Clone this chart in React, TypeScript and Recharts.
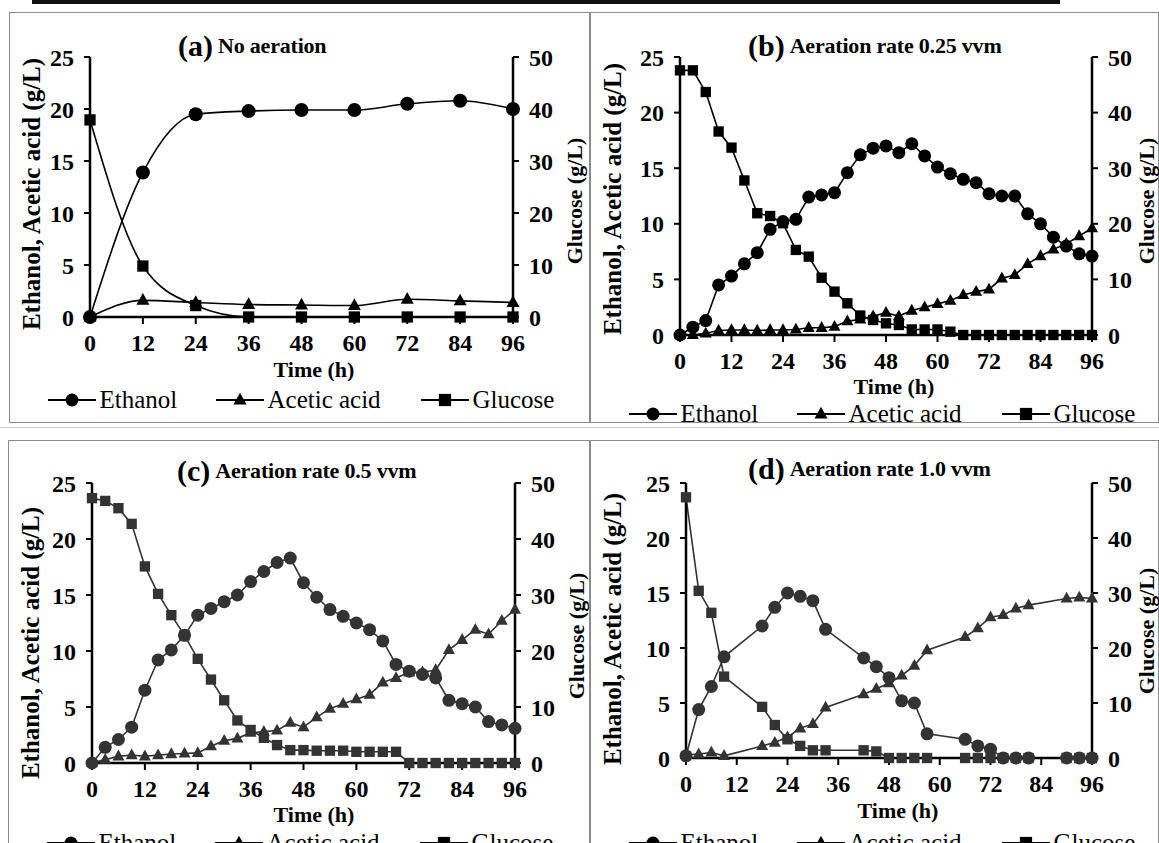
import React from 'react'
import { LineChart, Line, XAxis, YAxis } from 'recharts'

const FONT = '"Liberation Serif", "DejaVu Serif", serif'

// (a) no aeration, sampled every 12 h
const TIME_A = [0, 12, 24, 36, 48, 60, 72, 84, 96]
const ETHANOL_A = [0, 13.9, 19.5, 19.8, 19.9, 19.9, 20.5, 20.8, 20.0]
const ACETIC_A = [0, 1.6, 1.4, 1.2, 1.15, 1.1, 1.7, 1.55, 1.4]
const GLUCOSE_A = [37.9, 9.8, 2.2, 0, 0, 0, 0, 0, 0]

// (b) 0.25 vvm, every 3 h
const TIME_B = [0, 3, 6, 9, 12, 15, 18, 21, 24, 27, 30, 33, 36, 39, 42, 45, 48, 51, 54, 57, 60, 63, 66, 69, 72, 75, 78, 81, 84, 87, 90, 93, 96]
const ETHANOL_B = [0, 0.7, 1.3, 4.5, 5.3, 6.4, 7.4, 9.5, 10.2, 10.4, 12.4, 12.6, 12.8, 14.6, 16.2, 16.8, 17.0, 16.4, 17.2, 16.1, 15.1, 14.5, 14.0, 13.7, 12.7, 12.5, 12.5, 10.9, 10.0, 8.8, 8.0, 7.3, 7.1]
const ACETIC_B = [0, 0, 0.15, 0.4, 0.45, 0.45, 0.4, 0.45, 0.45, 0.5, 0.65, 0.65, 0.75, 1.25, 1.4, 1.7, 2.0, 1.7, 2.2, 2.5, 2.8, 3.1, 3.6, 3.9, 4.1, 5.1, 5.4, 6.4, 7.1, 7.7, 8.2, 8.9, 9.6]
const GLUCOSE_B = [47.6, 47.6, 43.7, 36.6, 33.7, 27.8, 21.9, 21.4, 20.1, 15.3, 14.1, 10.3, 7.8, 5.7, 3.5, 2.7, 2.1, 1.8, 1.0, 1.0, 1.0, 0.6, 0, 0, 0, 0, 0, 0, 0, 0, 0, 0, 0]

// (c) 0.5 vvm, every 3 h
const TIME_C = [0, 3, 6, 9, 12, 15, 18, 21, 24, 27, 30, 33, 36, 39, 42, 45, 48, 51, 54, 57, 60, 63, 66, 69, 72, 75, 78, 81, 84, 87, 90, 93, 96]
const ETHANOL_C = [0, 1.4, 2.1, 3.2, 6.5, 9.2, 10.1, 11.4, 13.2, 13.8, 14.4, 15.0, 16.2, 17.1, 17.9, 18.3, 16.1, 14.8, 13.7, 13.1, 12.5, 11.9, 10.9, 8.8, 8.2, 7.9, 7.6, 5.6, 5.3, 5.0, 3.7, 3.4, 3.1]
const ACETIC_C = [0, 0.3, 0.6, 0.7, 0.6, 0.7, 0.8, 0.85, 0.9, 1.5, 2.0, 2.2, 2.7, 2.8, 2.9, 3.6, 3.2, 4.1, 4.85, 5.3, 5.7, 6.1, 7.2, 7.6, 8.1, 8.1, 8.3, 10.1, 11.0, 11.9, 11.5, 12.7, 13.7]
const GLUCOSE_C = [47.3, 46.8, 45.5, 42.7, 35.1, 30.2, 26.4, 22.8, 18.6, 14.9, 11.2, 7.6, 5.9, 4.5, 3.2, 2.3, 2.3, 2.2, 2.2, 2.2, 2.0, 2.0, 2.0, 2.0, 0, 0, 0, 0, 0, 0, 0, 0, 0]

// (d) 1.0 vvm, irregular sampling
const TIME_D = [0, 3, 6, 9, 18, 21, 24, 27, 30, 33, 42, 45, 48, 51, 54, 57, 66, 69, 72, 75, 78, 81, 90, 93, 96]
const ETHANOL_D = [0.2, 4.4, 6.5, 9.2, 12.0, 13.7, 15.0, 14.7, 14.3, 11.7, 9.1, 8.3, 7.3, 5.2, 5.0, 2.2, 1.7, 1.1, 0.8, 0, 0, 0, 0, 0, 0]
const ACETIC_D = [0.3, 0.35, 0.5, 0.2, 1.1, 1.4, 1.9, 2.7, 3.1, 4.6, 5.8, 6.3, 6.8, 7.5, 8.4, 9.8, 11.0, 11.8, 12.8, 13.0, 13.6, 13.9, 14.5, 14.6, 14.5]
const GLUCOSE_D = [47.4, 30.4, 26.4, 14.8, 9.3, 6.0, 3.4, 2.2, 1.4, 1.4, 1.4, 1.2, 0, 0, 0, 0, 0, 0, 0, 0, 0, 0, 0, 0, 0]

const TIME_TICKS = [0, 12, 24, 36, 48, 60, 72, 84, 96]
const LEFT_TICKS = [0, 5, 10, 15, 20, 25]
const RIGHT_TICKS = [0, 10, 20, 30, 40, 50]

type Row = { t: number; eth: number; ace: number; glu: number }

function makeRows(time: number[], eth: number[], ace: number[], glu: number[]): Row[] {
  return time.map((t, i) => ({ t, eth: eth[i], ace: ace[i], glu: glu[i] }))
}

function marker(kind: string, cx: number, cy: number, s: number, color: string, key?: any) {
  if (kind === 'circle') return <circle key={key} cx={cx} cy={cy} r={s / 2} fill={color} />
  if (kind === 'square') return <rect key={key} x={cx - s * 0.47} y={cy - s * 0.47} width={s * 0.94} height={s * 0.94} fill={color} />
  const h = s * 0.9
  return (
    <polygon
      key={key}
      points={`${cx},${cy - h * 0.62} ${cx - s / 2},${cy + h * 0.38} ${cx + s / 2},${cy + h * 0.38}`}
      fill={color}
    />
  )
}

type Box = { x: number; y: number; w: number; h: number }
type Plot = { l: number; r: number; t: number; b: number }

interface PanelProps {
  box: Box
  plot: Plot
  tag: string
  title: string
  titleX: number
  titleY: number
  timeX: number
  timeY: number
  legendY: number
  leftTitle: { x: number; y: number }
  rightTitle: { x: number; y: number }
  data: Row[]
  smooth?: boolean
  color: string
  size: number
}

const LEGEND_ITEMS = [
  { kind: 'circle', label: 'Ethanol', x: 39 },
  { kind: 'triangle', label: 'Acetic acid', x: 207 },
  { kind: 'square', label: 'Glucose', x: 412 },
]

function Panel(p: PanelProps) {
  const YW = 40
  const XH = 40
  const margin = {
    left: p.plot.l - p.box.x - YW,
    right: p.box.x + p.box.w - p.plot.r - YW,
    top: p.plot.t - p.box.y,
    bottom: p.box.y + p.box.h - p.plot.b - XH,
  }
  const curve = p.smooth ? 'monotone' : 'linear'
  const tickStyle = { fill: '#000', fontSize: 24, fontWeight: 'bold' as const, fontFamily: FONT }
  const axisLine = { stroke: '#000', strokeWidth: 2.5 }
  const tickLine = { stroke: '#000', strokeWidth: 2 }

  return (
    <div
      style={{
        position: 'absolute', left: p.box.x, top: p.box.y, width: p.box.w, height: p.box.h,
        border: '1.5px solid #8c8c8c', boxSizing: 'border-box',
      }}
    >
      <div style={{ position: 'absolute', left: -1.5, top: -1.5 }}>
        <LineChart width={p.box.w} height={p.box.h} data={p.data} margin={margin}>
          <XAxis
            dataKey="t" type="number" domain={[0, 96]} ticks={TIME_TICKS} interval={0}
            axisLine={axisLine} tickLine={tickLine}
            tickSize={7} tickMargin={10} tick={tickStyle} height={XH}
          />
          <YAxis
            yAxisId="L" domain={[0, 25]} ticks={LEFT_TICKS} interval={0} width={YW}
            axisLine={axisLine} tickLine={tickLine}
            tickSize={6} tickMargin={10} tick={tickStyle}
          />
          <YAxis
            yAxisId="R" orientation="right" domain={[0, 50]} ticks={RIGHT_TICKS} interval={0} width={YW}
            axisLine={axisLine} tickLine={tickLine}
            tickSize={6} tickMargin={10} tick={{ ...tickStyle, textAnchor: 'start' }}
          />
          <Line
            yAxisId="L" dataKey="eth" name="Ethanol" type={curve} stroke={p.color} strokeWidth={1.6}
            isAnimationActive={false}
            dot={(d: any) => marker('circle', d.cx, d.cy, p.size + 2, p.color, `e${d.index}`)}
          />
          <Line
            yAxisId="L" dataKey="ace" name="Acetic acid" type={curve} stroke={p.color} strokeWidth={1.6}
            isAnimationActive={false}
            dot={(d: any) => marker('triangle', d.cx, d.cy, p.size + 1, p.color, `a${d.index}`)}
          />
          <Line
            yAxisId="R" dataKey="glu" name="Glucose" type={curve} stroke={p.color} strokeWidth={1.6}
            isAnimationActive={false}
            dot={(d: any) => marker('square', d.cx, d.cy, p.size, p.color, `g${d.index}`)}
          />
        </LineChart>
      </div>

      {/* legend */}
      <div style={{ position: 'absolute', left: -1.5, top: p.legendY - p.box.y - 12, width: p.box.w, height: 24 }}>
        {LEGEND_ITEMS.map(it => (
          <div key={it.label} style={{ position: 'absolute', left: it.x, top: 0, height: 24, display: 'flex', alignItems: 'center' }}>
            <svg width={50} height={24} style={{ flex: 'none' }}>
              <line x1={0} y1={12} x2={48} y2={12} stroke="#000" strokeWidth={1.8} />
              {marker(it.kind, 24, 12, 13, '#000')}
            </svg>
            <span style={{ fontFamily: FONT, fontSize: 25, lineHeight: '24px', color: '#000', marginLeft: 2, whiteSpace: 'nowrap' }}>{it.label}</span>
          </div>
        ))}
      </div>

      {/* panel title */}
      <div style={{ position: 'absolute', left: p.titleX - p.box.x, top: p.titleY - p.box.y - 17, height: 34, display: 'flex', alignItems: 'center', fontFamily: FONT, color: '#000', whiteSpace: 'nowrap' }}>
        <span style={{ fontSize: 30, fontWeight: 'bold' }}>{p.tag}</span>
        <span style={{ fontSize: 22, fontWeight: 'bold', marginLeft: 5, letterSpacing: -0.2 }}>{p.title}</span>
      </div>

      {/* axis titles */}
      <div style={{ position: 'absolute', left: p.timeX - p.box.x - 60, top: p.timeY - p.box.y - 10, width: 120, height: 20, textAlign: 'center', fontFamily: FONT, fontSize: 22, fontWeight: 'bold', lineHeight: '20px' }}>
        Time (h)
      </div>
      <div style={{ position: 'absolute', left: p.leftTitle.x - p.box.x - 160, top: p.leftTitle.y - p.box.y - 14, width: 320, textAlign: 'center', transform: 'rotate(-90deg)', fontFamily: FONT, fontSize: 25, fontWeight: 'bold', lineHeight: '28px', whiteSpace: 'nowrap' }}>
        Ethanol, Acetic acid (g/L)
      </div>
      <div style={{ position: 'absolute', left: p.rightTitle.x - p.box.x - 80, top: p.rightTitle.y - p.box.y - 12, width: 160, textAlign: 'center', transform: 'rotate(-90deg)', fontFamily: FONT, fontSize: 22, fontWeight: 'bold', lineHeight: '24px', whiteSpace: 'nowrap' }}>
        Glucose (g/L)
      </div>
    </div>
  )
}

export default function App() {
  return (
    <div style={{ position: 'absolute', left: 0, top: 0, width: 1159, height: 843, overflow: 'hidden', background: '#fff' }}>
      {/* rule left over from the table above the figure */}
      <div style={{ position: 'absolute', left: 32, top: 0, width: 1028, height: 4, background: '#111' }} />
      <div style={{ position: 'absolute', left: 0, top: 427, width: 1159, height: 1, background: '#d0d0d0' }} />

      <Panel
        box={{ x: 9, y: 12, w: 581, h: 411 }} plot={{ l: 90, r: 513, t: 57, b: 317 }}
        tag="(a)" title="No aeration" titleX={177} titleY={45}
        timeX={313} timeY={369} legendY={399}
        leftTitle={{ x: 31, y: 193 }} rightTitle={{ x: 574, y: 200 }}
        data={makeRows(TIME_A, ETHANOL_A, ACETIC_A, GLUCOSE_A)} smooth color="#000" size={12}
      />
      <Panel
        box={{ x: 590, y: 12, w: 569, h: 411 }} plot={{ l: 680, r: 1092, t: 57, b: 335 }}
        tag="(b)" title="Aeration rate 0.25 vvm" titleX={747} titleY={45}
        timeX={893} timeY={386} legendY={413}
        leftTitle={{ x: 612, y: 198 }} rightTitle={{ x: 1146, y: 200 }}
        data={makeRows(TIME_B, ETHANOL_B, ACETIC_B, GLUCOSE_B)} color="#000" size={11}
      />
      <Panel
        box={{ x: 8, y: 440, w: 582, h: 410 }} plot={{ l: 92, r: 515, t: 483, b: 763 }}
        tag="(c)" title="Aeration rate 0.5 vvm" titleX={176} titleY={470}
        timeX={313} timeY={814} legendY={842}
        leftTitle={{ x: 30, y: 642 }} rightTitle={{ x: 576, y: 635 }}
        data={makeRows(TIME_C, ETHANOL_C, ACETIC_C, GLUCOSE_C)} color="#333" size={11}
      />
      <Panel
        box={{ x: 590, y: 440, w: 569, h: 410 }} plot={{ l: 686, r: 1092, t: 483, b: 758 }}
        tag="(d)" title="Aeration rate 1.0 vvm" titleX={747} titleY={468}
        timeX={897} timeY={810} legendY={842}
        leftTitle={{ x: 612, y: 628 }} rightTitle={{ x: 1146, y: 630 }}
        data={makeRows(TIME_D, ETHANOL_D, ACETIC_D, GLUCOSE_D)} color="#333" size={11}
      />
    </div>
  )
}
